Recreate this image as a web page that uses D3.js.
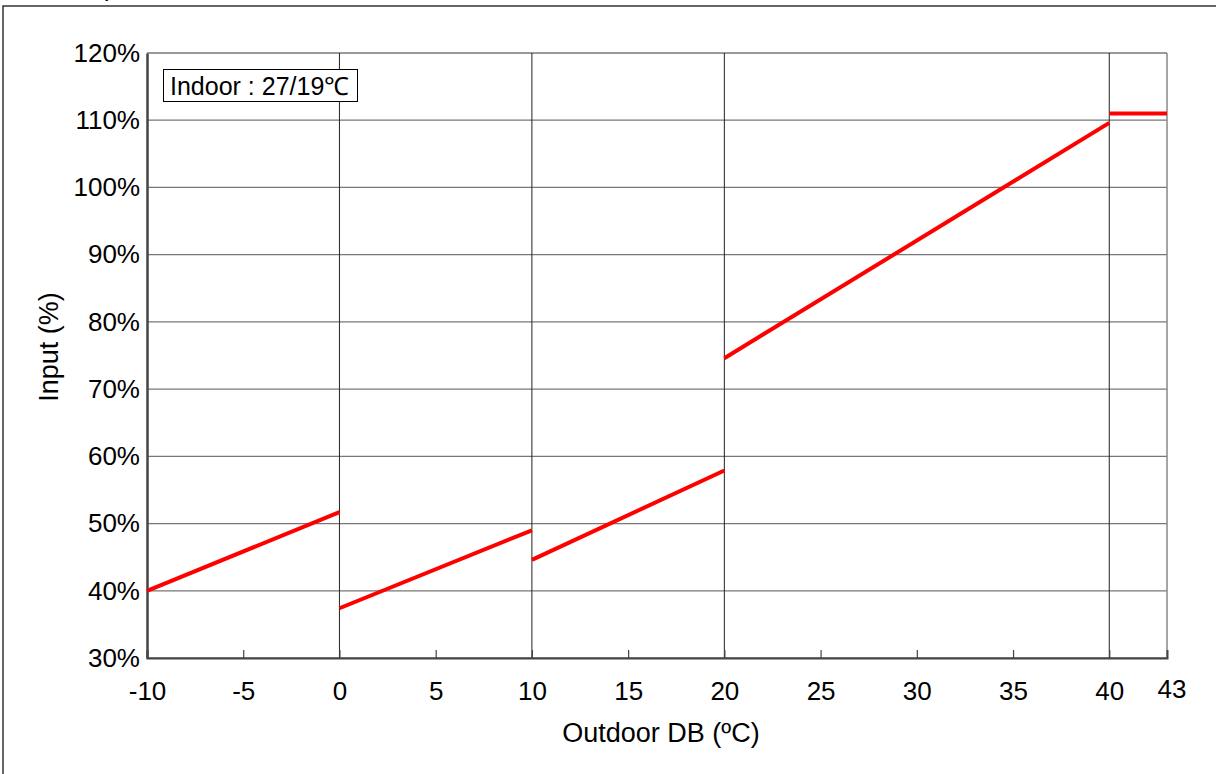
<!DOCTYPE html>
<html><head><meta charset="utf-8">
<script src="https://cdn.jsdelivr.net/npm/d3@7"></script>
<style>body{margin:0;background:#fff}svg{display:block;font-family:"Liberation Sans",Arial,sans-serif}</style>
</head><body><svg id="c" width="1216" height="774"></svg>
<script>
const xTicks = [-10,-5,0,5,10,15,20,25,30,35,40];
const xMajor = [0,10,20,40];
const yTicks = [30,40,50,60,70,80,90,100,110,120];
const segments = [
  {x:[-10,0], y:[40.0,51.7]},
  {x:[0,10], y:[37.4,49.0]},
  {x:[10,20], y:[44.6,57.9]},
  {x:[20,40], y:[74.6,109.6]},
  {x:[40,43], y:[111.0,111.0]}
];
const legendText = "Indoor : 27/19℃";
const xTitle = "Outdoor DB (ºC)";
const yTitle = "Input (%)";
const FS = 26;

const svg = d3.select("#c");
const L=147,R=1167,T=53,B=658;
const x = d3.scaleLinear().domain([-10,43]).range([L,R]);
const y = d3.scaleLinear().domain([30,120]).range([B,T]);

// outer frame
svg.append("rect").attr("x",3).attr("y",6).attr("width",1300).attr("height",900)
  .attr("fill","none").attr("stroke","#333").attr("stroke-width",1.5);
svg.append("text").attr("x",82).attr("y",-4).attr("font-size",FS).attr("fill","#000").text("Input");

// horizontal grid
svg.append("g").selectAll("line").data(yTicks).join("line")
  .attr("x1",L).attr("x2",R).attr("y1",d=>y(d)).attr("y2",d=>y(d))
  .attr("stroke","#777").attr("stroke-width",1.3);
// vertical major lines
svg.append("g").selectAll("line").data(xMajor).join("line")
  .attr("x1",d=>x(d)).attr("x2",d=>x(d)).attr("y1",T).attr("y2",B)
  .attr("stroke","#222").attr("stroke-width",1);
// right border
svg.append("line").attr("x1",R).attr("x2",R).attr("y1",T).attr("y2",B).attr("stroke","#888").attr("stroke-width",1.5);

// axes
const xa = svg.append("g").attr("transform",`translate(0,${B})`)
  .call(d3.axisBottom(x).tickValues(xTicks).tickSize(-8).tickPadding(24).tickFormat(d=>String(d)));
xa.select(".domain").attr("stroke","#444").attr("stroke-width",2);
xa.selectAll(".tick line").attr("stroke","#444").attr("stroke-width",1.2);
xa.selectAll("text").attr("font-size",FS).attr("fill","#000").attr("font-family","Liberation Sans, Arial, sans-serif");
svg.append("text").attr("x",x(43)+5).attr("y",698).attr("text-anchor","middle")
  .attr("font-size",FS).attr("fill","#000").text("43");

const ya = svg.append("g").attr("transform",`translate(${L},0)`)
  .call(d3.axisLeft(y).tickValues(yTicks).tickSize(0).tickPadding(7).tickFormat(d=>d+"%"));
ya.select(".domain").attr("stroke","#444").attr("stroke-width",2.5);
ya.selectAll("text").attr("font-size",FS).attr("fill","#000").attr("font-family","Liberation Sans, Arial, sans-serif");

// data lines
const line = d3.line().x(d=>x(d[0])).y(d=>y(d[1]));
svg.append("g").selectAll("path").data(segments).join("path")
  .attr("d",s=>line(s.x.map((v,i)=>[v,s.y[i]])))
  .attr("fill","none").attr("stroke","#ff0000").attr("stroke-width",4);

// legend box
svg.append("rect").attr("x",163.5).attr("y",69.5).attr("width",194).attr("height",32)
  .attr("fill","#fff").attr("stroke","#000").attr("stroke-width",1);
svg.append("text").attr("x",170).attr("y",95).attr("font-size",25).attr("fill","#000").text(legendText);

// titles
svg.append("text").attr("x",661).attr("y",742).attr("text-anchor","middle")
  .attr("font-size",27).attr("fill","#000").text(xTitle);
svg.append("text").attr("transform",`translate(58,347) rotate(-90)`).attr("text-anchor","middle")
  .attr("font-size",27).attr("fill","#000").text(yTitle);
</script></body></html>
